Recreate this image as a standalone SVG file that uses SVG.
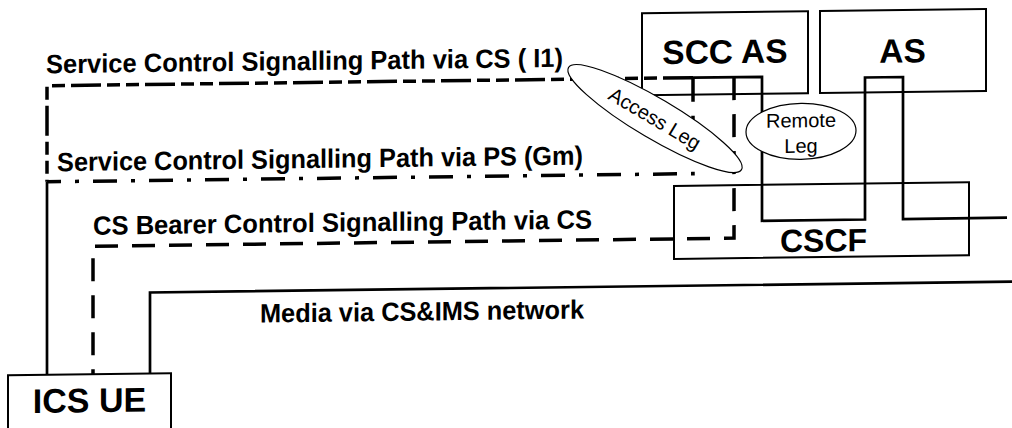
<svg xmlns="http://www.w3.org/2000/svg" width="1012" height="428" viewBox="0 0 1012 428">
<style>
.box{fill:none;stroke:#000;stroke-width:2}
.bt{font-family:"Liberation Sans",Arial,sans-serif;font-weight:bold;fill:#000;text-anchor:middle}
.lbl{font-family:"Liberation Sans",Arial,sans-serif;font-weight:bold;font-size:26.5px;fill:#000}
.et{font-family:"Liberation Sans",Arial,sans-serif;font-size:20px;fill:#000;text-anchor:middle}
.ln{fill:none;stroke:#000;stroke-linejoin:miter}
.p1{stroke-width:3.5;stroke-dasharray:30 6 13 6 13 6}
.p2{stroke-width:3.5;stroke-dasharray:24 14 4 14}
.p3{stroke-width:3.5;stroke-dasharray:23 14}
.sol{stroke-width:2.7}
.ell{fill:#fff;stroke:#000;stroke-width:1.2}
</style>
<rect width="1012" height="428" fill="#fff"/>
<g transform="translate(0,6.36) skewY(-0.72)">
  <g id="scc-as">
    <rect class="box" x="642" y="15" width="166" height="82"/>
    <text class="bt" x="725" y="66" font-size="33.5">SCC AS</text>
  </g>
  <g id="as">
    <rect class="box" x="820" y="15" width="166" height="82"/>
    <text class="bt" x="902.5" y="67.5" font-size="33.5">AS</text>
  </g>
  <g id="cscf">
    <rect class="box" x="674" y="188" width="295" height="73"/>
    <text class="bt" x="823.5" y="255.5" font-size="32">CSCF</text>
  </g>
  <g id="ics-ue">
    <rect class="box" x="8" y="369" width="163" height="80"/>
    <text class="bt" x="89.5" y="407" font-size="34">ICS UE</text>
  </g>
  <g id="connectors">
    <path class="ln p1" d="M693 80 H47 V176"/>
    <path class="ln sol" d="M47 176 V369"/>
    <path class="ln p2" d="M693 80 V176 H47"/>
    <path class="ln p3" d="M734 80 V241 H93 V369"/>
    <path class="ln sol" d="M693 80 H762 V224 H865 V82 H903 V224 H1007"/>
    <path class="ln sol" d="M150 369 V288 H1012"/>
  </g>
  <g id="labels">
    <text class="lbl" x="46" y="67.5" textLength="517" lengthAdjust="spacingAndGlyphs">Service Control Signalling Path via CS ( I1)</text>
    <text class="lbl" x="57" y="165.5" textLength="526" lengthAdjust="spacingAndGlyphs">Service Control Signalling Path via PS (Gm)</text>
    <text class="lbl" x="93" y="229.5" textLength="499" lengthAdjust="spacingAndGlyphs">CS Bearer Control Signalling Path via CS</text>
    <text class="lbl" x="260" y="319.5" textLength="324" lengthAdjust="spacingAndGlyphs">Media via CS&amp;IMS network</text>
  </g>
  <g id="access-leg" transform="translate(655,120.4) rotate(31.1)">
    <ellipse class="ell" cx="0" cy="0" rx="101" ry="20"/>
    <text class="et" x="0" y="7">Access Leg</text>
  </g>
  <g id="remote-leg">
    <ellipse class="ell" cx="801" cy="135" rx="55" ry="28"/>
    <text class="et" x="801" y="131">Remote</text>
    <text class="et" x="801" y="156.5">Leg</text>
  </g>
</g>
</svg>
